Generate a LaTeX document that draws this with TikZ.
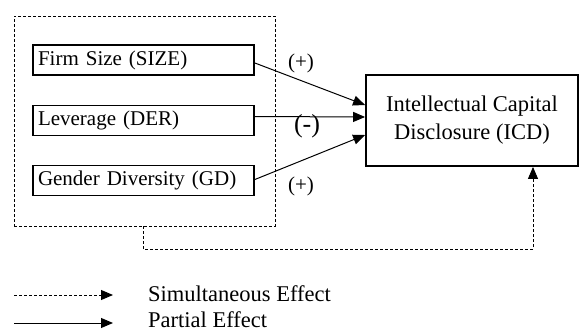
\documentclass[tikz,border=0pt]{standalone}
\usepackage{fontspec}
\setmainfont{Liberation Serif}
\usetikzlibrary{arrows.meta,calc}
\begin{document}
\begin{tikzpicture}[x=1pt,y=-1pt,
  every node/.style={font=\fontsize{21}{28}\selectfont},
  varbox/.style={draw,line width=1.8pt,minimum width=221pt,minimum height=30pt,text width=211pt,inner sep=4pt,align=left},
  dsh/.style={line width=0.9pt,dash pattern=on 3pt off 2pt},
  tip/.style={-{Triangle[length=12pt,width=10pt]}},
  lbl/.style={inner sep=0pt},
  big/.style={font=\fontsize{22.5}{28}\selectfont}]
\useasboundingbox (0,0) rectangle (579,332);
\node[draw,dsh,minimum width=261pt,minimum height=210pt,inner sep=0pt] (grp) at (144.5,121) {};
\node[varbox] (size) at (143.5,60) {Firm Size (SIZE)};
\node[varbox] (der) at (143.5,120.5) {Leverage (DER)};
\node[varbox] (gd) at (143.5,180.5) {Gender Diversity (GD)};
\node[draw,big,line width=1.8pt,minimum width=212pt,minimum height=91pt,align=center] (icd) at (472,120.5) {Intellectual Capital\\Disclosure (ICD)};
\draw[tip,line width=1pt] ($(size.east)+(0,3)$) -- ($(icd.west)+(0,-15.5)$);
\draw[tip,line width=1pt] ($(der.east)+(0,-4)$) -- ($(icd.west)+(0,-3.5)$);
\draw[tip,line width=1pt] ($(gd.east)+(0,-1)$) -- ($(icd.west)+(0,14.5)$);
\node[lbl] (p1) at (301,63) {(+)};
\node[lbl,font=\fontsize{26}{28}\selectfont] (m1) at (307,126) {(-)};
\node[lbl] (p2) at (301,186) {(+)};
\coordinate (a) at (143,226);
\coordinate (b) at (143,249);
\coordinate (c) at (533,249);
\draw[dsh,tip] (a) -- (b) -- (c) -- (c |- icd.south);
\coordinate (l1a) at (14,295);
\coordinate (l1b) at (113,295);
\coordinate (l2a) at (14,323);
\coordinate (l2b) at (113,323);
\draw[dsh,tip] (l1a) -- (l1b);
\draw[tip,line width=1pt] (l2a) -- (l2b);
\node[lbl,big,anchor=base west] (t1) at (148,301) {Simultaneous Effect};
\node[lbl,big,anchor=base west] (t2) at (148,327) {Partial Effect};
\end{tikzpicture}
\end{document}
